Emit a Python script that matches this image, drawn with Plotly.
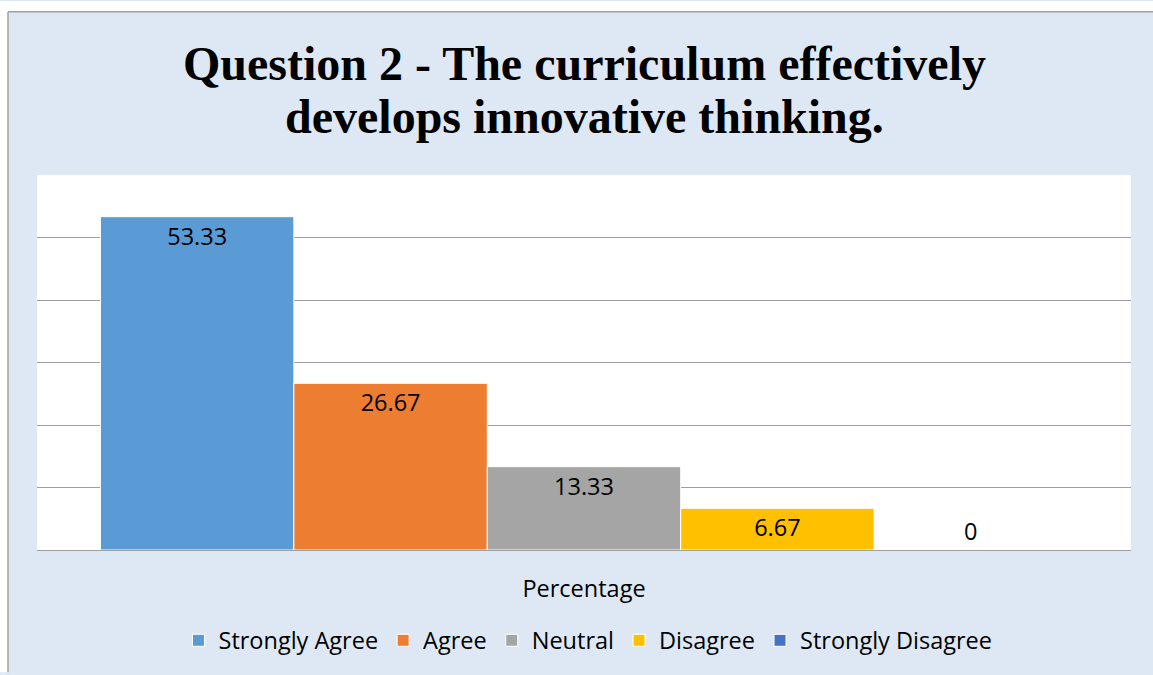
import plotly.graph_objects as go

categories = ["Percentage"]
series_names = ["Strongly Agree", "Agree", "Neutral", "Disagree", "Strongly Disagree"]
series_values = [53.33, 26.67, 13.33, 6.67, 0]
series_labels = ["53.33", "26.67", "13.33", "6.67", "0"]
colors = ["#5B9BD5", "#ED7D31", "#A5A5A5", "#FFC000", "#4472C4"]
title_lines = ["Question 2 - The curriculum effectively", "develops innovative thinking."]

BG = "#DEE8F5"
L, R, T, B = 37, 22, 175, 123
W, H = 1153, 675
pw, ph = W - L - R, H - T - B
FONT = "Open Sans"

def px(x):
    return (x - L) / pw

def py(y):
    return (H - B - y) / ph

fig = go.Figure()
for name, val, lab, col in zip(series_names, series_values, series_labels, colors):
    fig.add_trace(go.Bar(
        x=categories, y=[val], name=name,
        marker=dict(color=col, line=dict(color="white", width=1)),
        text=[lab],
        textposition="outside" if val == 0 else "inside",
        insidetextanchor="end",
        textfont=dict(family=FONT, size=23.5, color="#000000"),
        cliponaxis=False,
    ))

annotations = []
for line, ymid in zip(title_lines, [63, 116]):
    annotations.append(dict(
        text="<b>" + line + "</b>", xref="paper", yref="paper",
        x=px(584), y=py(ymid), xanchor="center", yanchor="middle",
        showarrow=False,
        font=dict(family="Liberation Serif", size=48, color="#000000"),
    ))

fig.update_layout(
    width=W, height=H,
    margin=dict(l=L, r=R, t=T, b=B),
    paper_bgcolor=BG,
    plot_bgcolor="white",
    barmode="group",
    bargap=0.116,
    bargroupgap=0,
    xaxis=dict(
        showgrid=False, showline=False, zeroline=False, ticks="",
        ticklabelstandoff=22,
        tickfont=dict(family=FONT, size=23.5, color="#000000"),
    ),
    yaxis=dict(
        range=[0, 60], dtick=10, showticklabels=False,
        showgrid=True, gridcolor="#9E9E9E", gridwidth=1,
        zeroline=True, zerolinecolor="#9E9E9E", zerolinewidth=1,
        showline=False,
    ),
    legend=dict(
        orientation="h", x=px(588), xanchor="center",
        y=py(643), yanchor="middle",
        font=dict(family=FONT, size=23.5, color="#000000"),
        bgcolor="rgba(0,0,0,0)",
        itemwidth=30,
    ),
    showlegend=True,
    annotations=annotations,
    shapes=[
        dict(type="rect", xref="paper", yref="paper",
             x0=px(0), x1=px(W), y0=py(11), y1=py(0),
             fillcolor="white", line=dict(width=0), layer="below"),
        dict(type="rect", xref="paper", yref="paper",
             x0=px(0), x1=px(8), y0=py(H), y1=py(0),
             fillcolor="white", line=dict(width=0), layer="below"),
        dict(type="line", xref="paper", yref="paper",
             x0=px(8), x1=px(W), y0=py(11), y1=py(11),
             line=dict(color="#A0A0A0", width=1.5)),
        dict(type="line", xref="paper", yref="paper",
             x0=px(8), x1=px(8), y0=py(11), y1=py(H),
             line=dict(color="#A0A0A0", width=1.5)),
    ],
)

fig.write_html("out.html", config={"displayModeBar": False},
               post_script="document.body.style.margin='0px';")
